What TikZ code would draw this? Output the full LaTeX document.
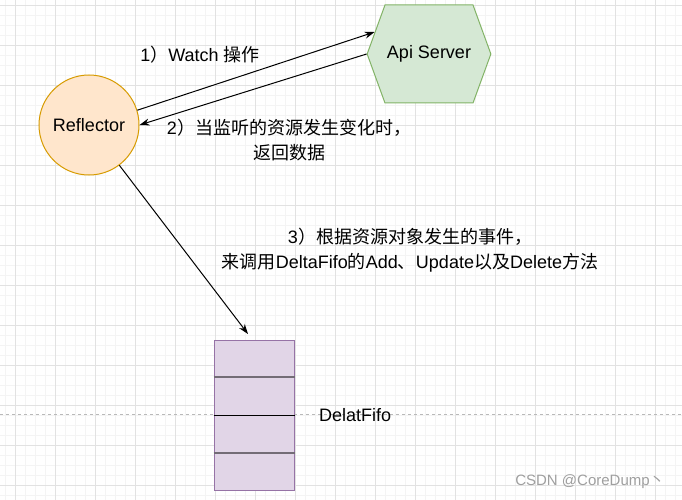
\documentclass[tikz,border=0pt]{standalone}
\usepackage{fontspec}
\setmainfont{Liberation Sans}
\newfontfamily\cjk{Noto Sans CJK SC}
\newcommand{\zh}[1]{{\cjk #1}}
\usetikzlibrary{calc, positioning, arrows.meta, shapes.symbols}
\definecolor{reflfill}{HTML}{FFE6CC}
\definecolor{reflline}{HTML}{D79B00}
\definecolor{apifill}{HTML}{D5E8D4}
\definecolor{apiline}{HTML}{82B366}
\definecolor{fifofill}{HTML}{E1D5E7}
\definecolor{fifoline}{HTML}{9673A6}
\definecolor{fifosep}{RGB}{115,108,118}
\definecolor{majorgrid}{HTML}{E2E2E2}
\definecolor{minorgrid}{HTML}{F4F4F4}
\tikzset{
  txt/.style={font=\fontsize{18}{24.5}\selectfont, align=center, inner sep=2pt},
  reflnode/.style={circle, draw=reflline, fill=reflfill, minimum size=100pt, inner sep=0pt, txt},
  apinode/.style={signal, signal to=east and west, signal pointer angle=140, draw=apiline, fill=apifill, minimum width=120pt, minimum height=98pt, inner sep=0pt, txt},
  fifonode/.style={rectangle, draw=fifoline, fill=fifofill, minimum width=80pt, minimum height=150pt, inner sep=0pt}
}

\begin{document}
\begin{tikzpicture}[x=1pt, y=-1pt, >={Stealth[length=10pt,width=7pt]}, line width=1pt]
\useasboundingbox (0,0) rectangle (682,500);
\fill[white] (0,0) rectangle (682,500);
\foreach \gx in {5.5,15.5,...,680} \draw[minorgrid, line width=0.6pt] (\gx,0) -- (\gx,500);
\foreach \gy in {5,15,...,500} \draw[minorgrid, line width=0.6pt] (0,\gy) -- (682,\gy);
\foreach \gx in {15.5,55.5,...,680} \draw[majorgrid, line width=0.8pt] (\gx,0) -- (\gx,500);
\foreach \gy in {5,45,...,500} \draw[majorgrid, line width=0.8pt] (0,\gy) -- (682,\gy);
\draw[gray!55, line width=0.7pt, dash pattern=on 3pt off 3pt] (0,414) -- (682,414);
\node[reflnode] (refl) at (89,125) {Reflector};
\node[apinode] (api) at (429,54) {Api Server};
\node[fifonode] (fifo) at (254,415) {};
\draw[fifosep, line width=1.8pt] ($(fifo.north west)!0.25!(fifo.south west)$) -- ($(fifo.north east)!0.25!(fifo.south east)$);
\draw[black] ($(fifo.north west)!0.5!(fifo.south west)$) -- ($(fifo.north east)!0.5!(fifo.south east)$);
\draw[fifosep, line width=1.8pt] ($(fifo.north west)!0.75!(fifo.south west)$) -- ($(fifo.north east)!0.75!(fifo.south east)$);
\node[txt, right=22pt of fifo] (fifolabel) {DelatFifo};
\coordinate (fifotop) at (248,334);
\draw[->] (refl.17) -- (api.158);
\draw[->] (api.west) -- (refl.east);
\draw[->] (refl.-53) -- (fifotop);
\node[txt] (watch) at (200,55) {1\zh{）}Watch \zh{操作}};
\node[txt] (back) at (289,140) {2\zh{）当监听的资源发生变化时，}\\\zh{返回数据}};
\node[txt] (event) at (410,250) {3\zh{）根据资源对象发生的事件，}\\\zh{来调用}DeltaFifo\zh{的}Add\zh{、}Update\zh{以及}Delete\zh{方法}};
\node[font=\fontsize{15}{18}\selectfont, text=gray!75, inner sep=0pt] (mark) at (590,482) {CSDN @CoreDump\zh{丶}};
\end{tikzpicture}
\end{document}
